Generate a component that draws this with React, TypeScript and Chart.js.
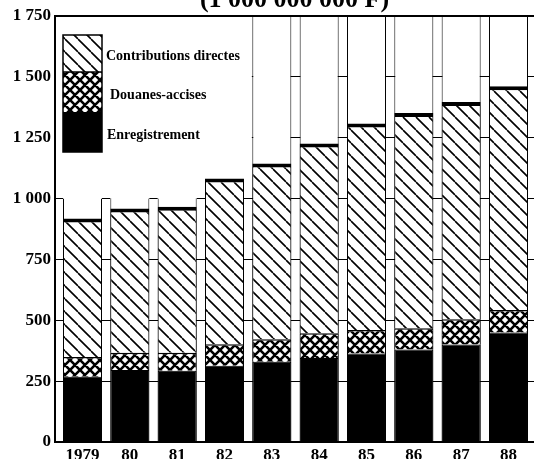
import { useEffect, useRef } from 'react';
import { Chart, registerables } from 'chart.js';

Chart.register(...registerables);

// ---- data ----
const years = ['1979', '80', '81', '82', '83', '84', '85', '86', '87', '88'];
const enregistrement = [268, 296, 293, 313, 330, 345, 364, 380, 401, 450];
const douanesAccises = [81, 71, 74, 89, 92, 102, 96, 87, 103, 92];
const contributionsDirectes = [569, 592, 599, 680, 722, 779, 848, 885, 893, 919];
// white frame columns behind the bars (top of each column)
const columnFrame = [1000, 1000, 1000, 1000, 1750, 1750, 1750, 1750, 1750, 1750];
const seriesLabels = ['Enregistrement', 'Douanes-accises', 'Contributions directes'];
const titleText = '(1 000 000 000 F)';
const yMin = 0;
const yMax = 1750;
const yStep = 250;

const SERIF = "'Liberation Serif', 'DejaVu Serif', serif";

function makeTile(size: number, draw: (g: CanvasRenderingContext2D, s: number) => void) {
  const c = document.createElement('canvas');
  c.width = size;
  c.height = size;
  const g = c.getContext('2d')!;
  g.fillStyle = '#fff';
  g.fillRect(0, 0, size, size);
  draw(g, size);
  return g.createPattern(c, 'repeat')!;
}

function hatchPattern() {
  return makeTile(13, (g, s) => {
    g.strokeStyle = '#000';
    g.lineWidth = 1.6;
    g.beginPath();
    for (let k = -1; k <= 1; k++) {
      g.moveTo(k * s, 0);
      g.lineTo(k * s + s, s);
    }
    g.stroke();
  });
}

function crossPattern() {
  return makeTile(10, (g, s) => {
    g.strokeStyle = '#000';
    g.lineWidth = 2.6;
    g.beginPath();
    for (let k = -1; k <= 1; k++) {
      g.moveTo(k * s, 0);
      g.lineTo(k * s + s, s);
      g.moveTo(k * s + s, 0);
      g.lineTo(k * s, s);
    }
    g.stroke();
  });
}

function formatTick(v: number) {
  if (v >= 1000) {
    const th = Math.floor(v / 1000);
    const rest = String(v % 1000).padStart(3, '0');
    return `${th} ${rest}`;
  }
  return String(v);
}

const tickValues = years.map((_, i) => ({ value: i }));

const framePlugin = {
  id: 'framePlugin',
  beforeDatasetsDraw(chart: any) {
    const { ctx, chartArea: ca, scales } = chart;
    const meta = chart.getDatasetMeta(3);
    const tallIdx = columnFrame.findIndex((v) => v === yMax);
    const el = meta.data[tallIdx];
    if (!el) return;
    const xEdge = el.x - el.width / 2;
    const yLow = scales.y.getPixelForValue(columnFrame[0]);
    ctx.save();
    ctx.fillStyle = '#fff';
    // blank area above the short frame columns (legend corner)
    ctx.fillRect(ca.left + 1, ca.top + 1, xEdge - ca.left - 1.5, yLow - ca.top - 2);
    // hide grid lines across the short columns themselves
    meta.data.forEach((e: any, i: number) => {
      if (columnFrame[i] < yMax) {
        ctx.fillRect(e.x - e.width / 2, ca.top + 1, e.width, e.y - ca.top + 1.5);
      }
    });
    ctx.restore();
  },
  afterDatasetsDraw(chart: any) {
    const { ctx, chartArea: ca } = chart;
    ctx.save();
    ctx.strokeStyle = '#000';
    ctx.lineWidth = 2;
    ctx.beginPath();
    ctx.moveTo(ca.left, ca.bottom);
    ctx.lineTo(ca.left, ca.top);
    ctx.lineTo(ca.right, ca.top);
    ctx.moveTo(ca.left - 1, ca.bottom);
    ctx.lineTo(ca.right, ca.bottom);
    ctx.stroke();

    // legend drawn as a small stacked column in the first bar's slot
    const meta0 = chart.getDatasetMeta(0);
    const el = meta0.data[0];
    const x0 = el.x - el.width / 2;
    const w = el.width;
    const segH = [37, 40, 40];
    const order = [2, 1, 0];
    const xOff = [4, 8, 5];
    let y = ca.top + 19;
    order.forEach((di, k) => {
      const ds = chart.data.datasets[di];
      ctx.fillStyle = ds.backgroundColor;
      ctx.fillRect(x0, y, w, segH[k]);
      ctx.fillStyle = '#000';
      ctx.font = `bold 14px ${SERIF}`;
      ctx.textAlign = 'left';
      ctx.textBaseline = 'middle';
      ctx.fillText(ds.label, x0 + w + xOff[k], y + segH[k] / 2 + 3);
      y += segH[k];
    });
    ctx.lineWidth = 1.5;
    ctx.strokeRect(x0, ca.top + 19, w, segH[0] + segH[1] + segH[2]);
    ctx.beginPath();
    ctx.moveTo(x0, ca.top + 19 + segH[0]);
    ctx.lineTo(x0 + w, ca.top + 19 + segH[0]);
    ctx.stroke();

    // title (cut by the top of the picture)
    ctx.font = `bold 26px ${SERIF}`;
    ctx.textAlign = 'center';
    ctx.textBaseline = 'alphabetic';
    ctx.fillText(titleText, (ca.left + ca.right) / 2, 7);
    ctx.restore();
  },
};

export default function App() {
  const ref = useRef<HTMLCanvasElement>(null);

  useEffect(() => {
    const canvas = ref.current!;
    const hatch = hatchPattern();
    const cross = crossPattern();
    const toXY = (arr: (number | null)[]) => years.map((_, i) => ({ x: i, y: arr[i] }));

    const xMin = -0.581;
    const xMax = 9.539;
    const barOpts = { grouped: false, barPercentage: 0.824, categoryPercentage: 1 };

    const chart = new Chart(canvas, {
      type: 'bar',
      data: {
        datasets: [
          {
            label: seriesLabels[0],
            data: toXY(enregistrement) as any,
            backgroundColor: '#000',
            borderColor: '#000',
            borderWidth: 1,
            xAxisID: 'x',
            order: 0,
            ...barOpts,
          },
          {
            label: seriesLabels[1],
            data: toXY(douanesAccises) as any,
            backgroundColor: cross as any,
            borderColor: '#000',
            borderWidth: { top: 1.5, left: 1, right: 1, bottom: 0 } as any,
            borderSkipped: false,
            xAxisID: 'x',
            order: 0,
            ...barOpts,
          },
          {
            label: seriesLabels[2],
            data: toXY(contributionsDirectes) as any,
            backgroundColor: hatch as any,
            borderColor: '#000',
            borderWidth: { top: 4, left: 1, right: 1, bottom: 0 } as any,
            borderSkipped: false,
            xAxisID: 'x',
            order: 0,
            ...barOpts,
          },
          {
            label: 'frame',
            data: toXY(columnFrame) as any,
            backgroundColor: '#fff',
            borderColor: '#000',
            borderWidth: { top: 0, left: 1, right: 1, bottom: 0 } as any,
            borderSkipped: false,
            xAxisID: 'x2',
            order: 1,
            ...barOpts,
          },
        ],
      },
      options: {
        responsive: false,
        devicePixelRatio: 1,
        animation: false,
        layout: { padding: { top: 16, left: 0, right: 0, bottom: 0 } },
        plugins: {
          legend: { display: false },
          tooltip: { enabled: false },
          title: { display: false },
        },
        scales: {
          x: {
            type: 'linear',
            min: xMin,
            max: xMax,
            offset: false,
            stacked: true,
            grid: { display: false, offset: false, drawTicks: false },
            border: { display: false },
            ticks: {
              stepSize: 1,
              includeBounds: false,
              autoSkip: false,
              maxRotation: 0,
              padding: 3,
              color: '#000',
              font: { family: SERIF, size: 17, weight: 'bold' },
              callback: (v: any) => years[v as number] ?? '',
            },
            afterBuildTicks: (s: any) => {
              s.ticks = tickValues.map((t) => ({ ...t }));
            },
            afterFit: (s: any) => {
              s.height = 17;
            },
          },
          x2: {
            type: 'linear',
            min: xMin,
            max: xMax,
            offset: false,
            display: false,
            stacked: true,
            grid: { display: false, offset: false },
            ticks: { stepSize: 1, includeBounds: false },
            afterBuildTicks: (s: any) => {
              s.ticks = tickValues.map((t) => ({ ...t }));
            },
          },
          y: {
            type: 'linear',
            min: yMin,
            max: yMax,
            stacked: true,
            grid: { color: '#000', lineWidth: 1, drawTicks: false },
            border: { display: false },
            ticks: {
              stepSize: yStep,
              padding: 4,
              color: '#000',
              font: { family: SERIF, size: 17, weight: 'bold' },
              callback: (v: any) => formatTick(v as number),
            },
            afterFit: (s: any) => {
              s.width = 55;
            },
          },
        },
      } as any,
      plugins: [framePlugin],
    });

    return () => chart.destroy();
  }, []);

  return (
    <div style={{ position: 'absolute', left: 0, top: 0, width: 534, height: 459, background: '#fff' }}>
      <canvas ref={ref} width={534} height={459} style={{ display: 'block' }} />
    </div>
  );
}
